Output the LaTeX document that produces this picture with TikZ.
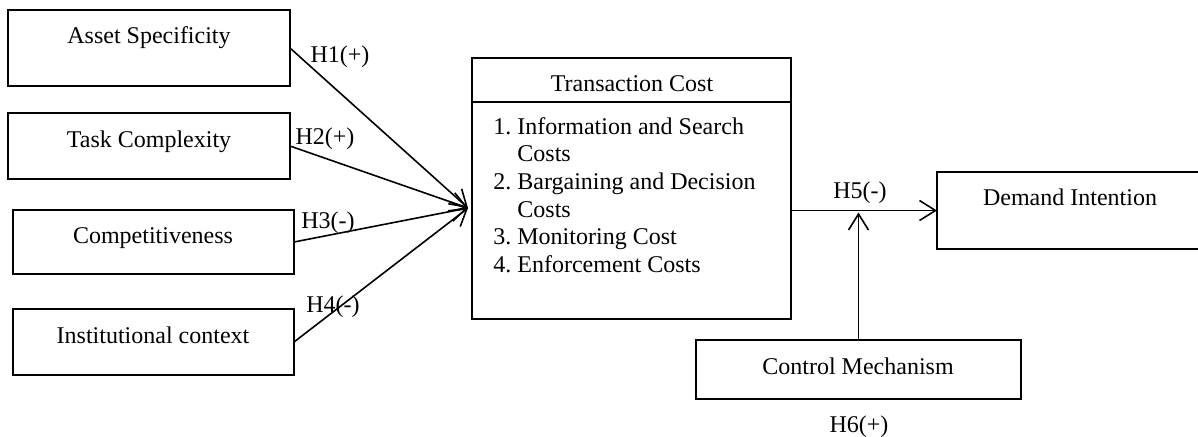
\documentclass[tikz,border=0pt]{standalone}
\usepackage{fontspec}
\setmainfont{Liberation Serif}
\usetikzlibrary{arrows.meta}
\begin{document}
\begin{tikzpicture}[x=0.5pt,y=-0.5pt,
  box/.style={draw,line width=1pt,rectangle,anchor=north west,inner sep=0pt,outer sep=0pt},
  lbl/.style={anchor=base,inner sep=0pt,font=\fontsize{12}{13.85}\selectfont},
  arr/.style={line width=0.8pt,-{Straight Barb[length=8pt,width=10pt,line width=0.8pt]}}]
\useasboundingbox (0,0) rectangle (1198,436);
% boxes
\node[box,minimum width=141pt,minimum height=38pt] (as) at (8,10) {};
\node[box,minimum width=141pt,minimum height=33pt] (tk) at (8,113) {};
\node[box,minimum width=140.5pt,minimum height=32pt] (co) at (13,210) {};
\node[box,minimum width=140.5pt,minimum height=33pt] (ic) at (13,309) {};
\node[box,minimum width=159.5pt,minimum height=130.5pt] (trc) at (472,58) {};
\node[box,minimum width=133pt,minimum height=38.5pt] (di) at (937,172) {};
\node[box,minimum width=162.5pt,minimum height=29.5pt] (cm) at (696,340) {};
% divider in transaction cost box
\coordinate (dvl) at ([yshift=-22pt]trc.north west);
\coordinate (dvr) at ([yshift=-22pt]trc.north east);
\draw[line width=1pt] (dvl) -- (dvr);
% texts
\node[lbl] (tas) at (149,43) {Asset Specificity};
\node[lbl] (ttk) at (149,147) {Task Complexity};
\node[lbl] (tco) at (153,243) {Competitiveness};
\node[lbl] (tic) at (153,343) {Institutional context};
\node[lbl] (ttc) at (632,91) {Transaction Cost};
\node[lbl,anchor=base west] (tlist) at (493,134) {\begin{tabular}[t]{@{}l@{}}
\makebox[12pt][l]{1.}Information and Search\\
\hspace*{12pt}Costs\\
\makebox[12pt][l]{2.}Bargaining and Decision\\
\hspace*{12pt}Costs\\
\makebox[12pt][l]{3.}Monitoring Cost\\
\makebox[12pt][l]{4.}Enforcement Costs
\end{tabular}};
\node[lbl] (tdi) at (1070,205) {Demand Intention};
\node[lbl] (tcm) at (858,374) {Control Mechanism};
% hypothesis labels
\node[lbl] (h1) at (340,62) {H1(+)};
\node[lbl] (h2) at (325,144) {H2(+)};
\node[lbl] (h3) at (328,228) {H3(-)};
\node[lbl] (h4) at (333,312) {H4(-)};
\node[lbl] (h5) at (860,198) {H5(-)};
\node[lbl] (h6) at (859,432) {H6(+)};
% connectors
\coordinate (conv) at (468,208);
\draw[arr] (as.east) -- (conv);
\draw[arr] (tk.east) -- (conv);
\draw[arr] (co.east) -- (conv);
\draw[arr] (ic.east) -- (conv);
\coordinate (tcout) at (trc.east |- di.west);
\draw[arr] (tcout) -- (di.west);
\coordinate (meet) at (cm.north |- di.west);
\draw[arr] (cm.north) -- ([yshift=-1pt]meet);
\end{tikzpicture}
\end{document}
